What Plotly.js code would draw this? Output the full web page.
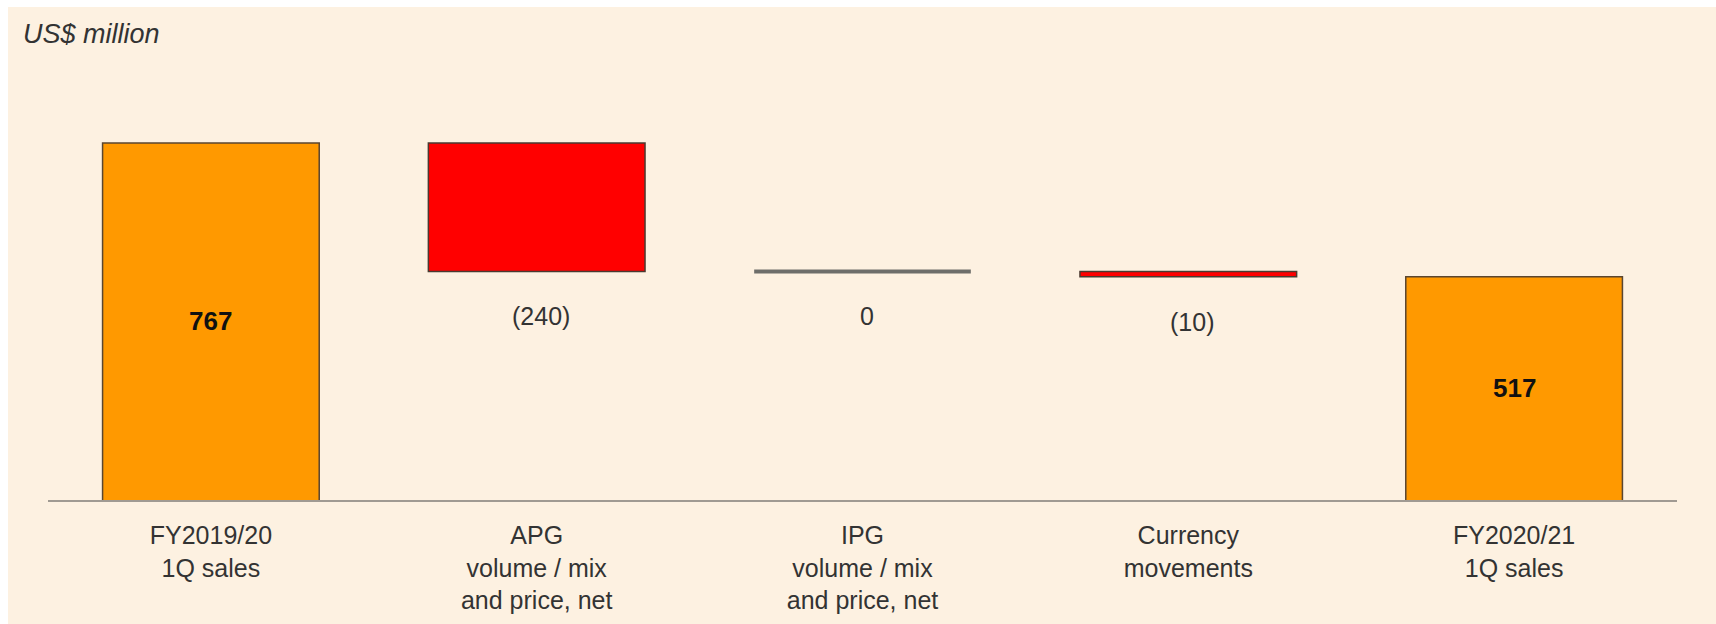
<!DOCTYPE html>
<html><head><meta charset="utf-8">
<script src="https://cdn.plot.ly/plotly-3.0.1.min.js"></script>
<style>html,body{margin:0;padding:0;background:#ffffff;} #chart{position:absolute;left:8px;top:7px;width:1708px;height:617px;}</style>
</head><body><div id="chart"></div>
<script>
const categories = ["FY2019/20<br>1Q sales", "APG<br>volume / mix<br>and price, net", "IPG<br>volume / mix<br>and price, net", "Currency<br>movements", "FY2020/21<br>1Q sales"];
const measures = ["absolute", "relative", "relative", "relative", "total"];
const values = [767, -240, 0, -10, 517];
const valueLabels = ["767", "(240)", "0", "(10)", "517"];
const axisFloor = 100;

const FONT = 'Arial, "Liberation Sans", sans-serif';
const GAP = 0.335;

// annotations and zero-change markers derived from data
const annotations = [];
const shapes = [];
let level = 0;
for (let i = 0; i < categories.length; i++) {
  if (measures[i] === 'absolute' || measures[i] === 'total') {
    if (measures[i] === 'absolute') level = values[i];
    annotations.push({x: categories[i], y: (axisFloor + level) / 2, xref: 'x', yref: 'y', text: '<b>' + valueLabels[i] + '</b>', showarrow: false, font: {family: FONT, size: 26, color: '#111'}, yanchor: 'middle'});
  } else {
    const prev = level;
    level = level + values[i];
    annotations.push({x: categories[i], y: Math.min(prev, level), xref: 'x', yref: 'y', text: valueLabels[i], showarrow: false, font: {family: FONT, size: 25, color: '#333'}, yanchor: 'middle', yshift: -45, xshift: 4});
    if (values[i] === 0) {
      shapes.push({type: 'line', xref: 'x', yref: 'y', x0: i - (1 - GAP) / 2, x1: i + (1 - GAP) / 2, y0: level, y1: level, line: {color: '#6e6e6a', width: 4}});
    }
  }
}

const trace = {
  type: 'waterfall',
  x: categories,
  y: values,
  measure: measures,
  textposition: 'none',
  connector: {visible: false},
  increasing: {marker: {color: '#777777', line: {color: '#6e6e6a', width: 4}}},
  decreasing: {marker: {color: '#ff0000', line: {color: '#4a3a30', width: 1.5}}},
  totals: {marker: {color: '#ff9900', line: {color: '#5a4630', width: 1.5}}},
  hoverinfo: 'skip'
};

const layout = {
  width: 1708, height: 617,
  paper_bgcolor: '#fdf1e1',
  plot_bgcolor: 'rgba(0,0,0,0)',
  margin: {l: 40, r: 39, t: 65, b: 124},
  waterfallgap: GAP,
  showlegend: false,
  title: {text: 'US$ million', font: {family: FONT, size: 27, style: 'italic', color: '#333'}, xref: 'container', x: 15/1708, xanchor: 'left', yref: 'container', y: 1 - 27/617, yanchor: 'middle'},
  xaxis: {
    type: 'category',
    showline: true, linecolor: '#a09a92', linewidth: 2,
    showgrid: false, zeroline: false, ticks: '',
    tickfont: {family: FONT, size: 25, color: '#333'},
    ticklabelstandoff: 12
  },
  yaxis: {range: [axisFloor, 899.4], visible: false, showgrid: false, zeroline: false},
  annotations: annotations,
  shapes: shapes
};

Plotly.newPlot('chart', [trace], layout, {displayModeBar: false, staticPlot: true});
</script>
</body></html>
